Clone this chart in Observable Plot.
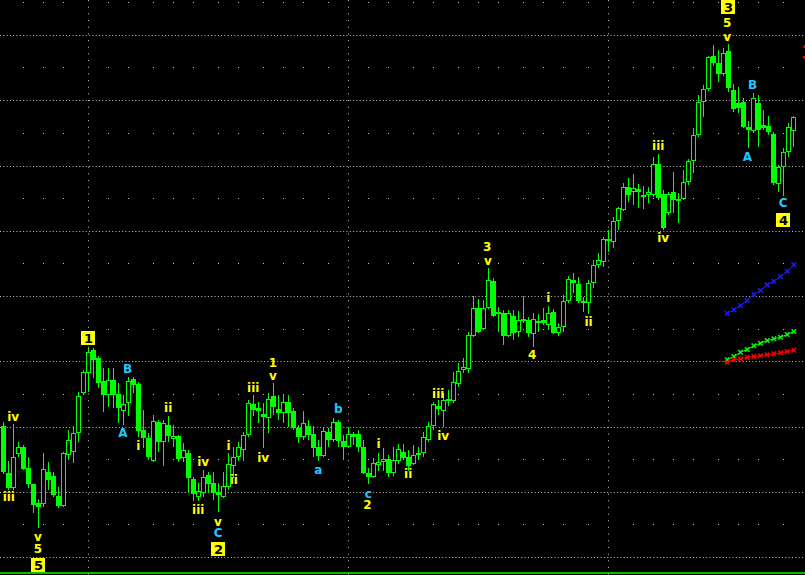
<!DOCTYPE html>
<html><head><meta charset="utf-8">
<script src="https://cdn.jsdelivr.net/npm/d3@7"></script>
<script src="https://cdn.jsdelivr.net/npm/@observablehq/plot@0.6"></script>
<style>html,body{margin:0;padding:0;background:#000;overflow:hidden}</style>
</head><body><div id="chart"></div>
<script>
// Daily OHLC (arbitrary price units), 159 sessions
const openP = [17.4,12.7,11.2,14.6,15.3,13.2,11.6,9.7,9.6,12.8,12.4,10.4,9.4,14.5,14.8,16.7,20.7,22.7,25.0,24.2,
21.9,20.5,22.0,20.6,18.9,19.7,22.1,21.6,17.0,16.2,13.9,17.8,15.8,17.5,16.1,16.4,14.2,14.7,12.1,10.3,
10.7,12.5,11.7,10.8,10.3,11.3,13.4,14.3,15.0,16.5,19.6,19.2,18.6,18.2,20.4,19.1,18.7,19.8,18.9,17.2,
16.3,17.4,16.6,15.3,14.4,16.8,16.0,17.8,15.9,15.3,16.6,16.6,15.3,12.7,12.3,13.5,13.8,14.1,12.7,13.9,
14.8,14.3,13.6,14.7,14.7,16.0,17.4,19.4,18.9,19.9,19.9,21.6,23.0,23.1,26.4,29.2,27.1,29.2,31.9,28.8,
28.7,26.4,28.4,26.8,28.1,28.0,26.6,27.9,28.0,27.5,28.8,26.7,27.3,29.9,32.0,31.6,29.9,29.7,31.7,33.5,
33.8,36.1,35.8,37.9,39.0,41.3,40.8,41.1,40.5,40.5,40.5,43.6,40.6,38.7,40.8,39.9,40.1,41.8,43.9,46.5,
49.8,51.1,54.4,53.7,52.6,54.9,51.0,49.7,49.8,47.3,46.9,49.7,47.5,47.4,46.6,41.6,43.3,44.8,46.9];
const highP = [17.8,13.9,17.6,15.8,15.5,14.3,11.6,10.1,14.7,13.8,12.8,11.3,14.8,17.0,17.4,20.8,23.0,25.2,25.2,24.4,
23.2,23.2,23.2,21.7,20.5,22.3,22.3,21.8,19.0,16.7,18.5,18.0,18.0,18.4,17.5,16.5,15.7,15.0,12.3,11.7,
13.0,12.8,12.8,11.7,12.8,14.7,15.3,15.8,16.8,20.0,20.5,19.8,19.7,20.7,21.7,20.5,20.5,20.5,19.2,17.5,
18.9,18.0,17.4,16.0,17.3,17.2,18.2,18.0,16.5,17.3,16.8,17.0,16.0,13.2,14.2,14.7,15.2,14.5,15.3,15.6,
15.6,15.0,15.5,15.3,16.8,17.8,19.8,20.0,20.7,21.0,22.8,23.7,24.2,26.8,30.4,30.1,30.0,33.2,32.2,29.3,
29.0,29.0,29.0,28.9,30.4,28.3,28.7,28.6,29.2,29.4,29.1,27.7,30.5,32.4,32.7,32.3,30.3,32.0,34.0,34.7,
36.3,37.0,38.3,39.3,41.7,42.2,42.6,41.6,41.4,41.3,44.3,44.6,41.0,40.8,42.8,40.7,43.0,44.1,47.2,50.5,
51.5,54.4,55.5,55.0,55.2,55.6,51.6,51.3,50.2,47.9,50.7,50.5,49.0,48.4,46.8,43.5,45.2,47.7,48.4];
const lowP = [12.6,11.0,11.0,14.3,13.0,11.2,8.7,7.2,9.3,11.0,10.3,9.2,9.3,14.0,13.7,15.8,20.5,20.8,22.2,21.2,
18.8,19.3,19.2,17.7,17.5,18.4,20.7,16.3,15.2,14.0,13.8,14.8,13.4,15.8,15.3,13.8,13.8,10.7,9.9,9.9,
10.3,10.7,10.0,8.8,10.2,11.0,12.2,13.9,13.9,16.3,18.4,17.7,15.2,16.7,18.5,18.0,17.7,17.3,17.0,15.7,
16.0,16.0,14.3,13.9,14.3,15.3,15.8,15.3,14.0,15.2,15.5,14.8,12.6,11.6,12.2,12.9,12.9,12.3,12.4,13.6,
14.0,12.9,13.5,14.0,14.3,15.8,17.0,18.5,17.3,19.4,19.7,21.3,22.7,22.7,26.3,26.7,27.0,29.1,28.3,26.8,
25.5,26.3,26.0,26.3,27.7,26.3,25.3,26.8,27.5,27.0,26.6,26.4,26.8,29.7,30.7,29.7,28.8,28.6,31.2,33.2,
33.3,34.8,35.2,37.0,38.9,39.8,39.5,39.2,39.1,39.7,40.3,40.0,37.0,38.5,38.7,37.7,40.0,41.5,42.7,46.3,
48.3,50.9,53.4,51.8,52.4,50.8,48.8,48.7,47.2,45.2,46.7,45.3,47.0,46.5,41.5,40.8,40.4,44.3,45.3];
const closeP = [12.8,11.2,14.3,15.3,13.1,11.6,9.5,9.3,13.1,12.0,10.5,9.4,14.7,16.0,16.7,20.4,22.8,24.8,24.0,21.7,
20.5,22.0,20.5,19.2,19.6,21.9,21.5,16.9,16.2,14.3,17.9,15.8,17.7,16.4,16.4,14.1,15.0,12.2,10.6,10.9,
12.3,11.6,10.7,10.5,11.4,13.6,14.3,15.3,16.5,19.7,19.0,18.9,18.3,20.1,19.3,18.7,19.8,18.7,17.2,16.3,
17.7,16.5,15.2,14.4,16.9,16.0,17.8,15.9,15.3,16.6,16.3,15.3,12.7,12.3,13.7,13.8,14.1,12.7,14.0,15.1,
14.2,13.4,14.5,14.5,16.3,17.4,19.6,19.1,20.0,20.1,21.8,22.9,23.3,26.5,29.2,26.8,29.2,32.0,28.4,28.6,
26.4,28.7,26.7,28.0,27.9,26.7,28.1,27.7,27.7,28.7,26.7,27.3,29.9,32.1,31.7,29.9,29.7,31.7,33.5,34.0,
36.1,35.9,37.9,39.2,41.3,40.5,41.2,40.8,40.3,40.8,43.6,40.2,37.2,40.6,40.0,40.1,41.8,43.9,46.5,49.8,
51.1,54.3,53.7,52.6,54.7,51.2,49.1,49.2,47.3,47.0,50.2,47.0,47.2,46.8,41.7,43.3,44.8,47.3,48.3];

// Indicator lines at the right edge
const maX    = [144.64,145.97,147.3,148.64,149.97,151.3,152.64,153.97,155.3,156.64,157.97];
const blueMA = [28.73,29.07,29.5,30.0,30.6,31.0,31.57,31.93,32.4,32.93,33.57];
const greenMA= [24.07,24.4,24.83,25.1,25.47,25.73,26.0,26.17,26.33,26.6,26.9];
const redMA  = [23.83,24.07,24.17,24.33,24.4,24.47,24.57,24.67,24.77,24.9,25.03];

// Elliott wave labels
const labelText = ["iv","iii","v","5","B","A","i","ii","iv","iii","v","C","i","ii","iii","iv","1","v","a","b","c","2","i","ii","iii","iv","3","v","4","i","ii","iii","iv","5","v","B","A","C"];
const labelX = [1.84,0.96,6.76,6.76,24.7,23.76,26.84,32.84,39.84,38.84,42.76,42.84,44.9,45.96,49.84,51.84,53.76,53.76,62.84,66.84,72.84,72.7,74.9,80.84,86.84,87.84,96.64,96.76,105.64,108.84,116.9,130.84,131.84,144.64,144.64,149.7,148.7,155.84];
const labelY = [18.33,10.33,6.33,5.1,23.1,16.73,15.43,19.2,13.83,9.0,7.83,6.73,15.4,12.0,21.27,14.27,23.77,22.4,13.0,19.17,10.67,9.5,15.6,12.6,20.67,16.43,35.33,33.9,24.5,30.2,27.83,45.43,36.2,57.73,56.33,51.5,44.3,39.7];
const labelKind = ["y","y","y","y","c","c","y","y","y","y","y","c","y","y","y","y","y","y","c","c","c","y","y","y","y","y","y","y","y","y","y","y","y","y","y","c","c","c"];

const boxText = ["5","1","2","3","4"];
const boxX = [6.9,16.9,42.9,144.9,155.9];
const boxY = [3.5,26.2,5.1,59.3,38.0];

// Grid
const majorY = [56.5,50.0,43.4,36.9,30.4,23.9,17.3,10.8,4.3];
const minorY = [59.8,53.3,46.7,40.2,33.7,27.1,20.6,14.1,7.6];
const majorX = [17,69,121];
const weekX = [4,8,12,21,25,30,34,38,43,47,52,56,60,65,73,77,82,86,91,95,99,104,108,112,117,126,130,134,138,143,147,151,156];
const baseLine = [2.75];

const bars = openP.map((o, i) => ({i, open: o, high: highP[i], low: lowP[i], close: closeP[i], up: closeP[i] > o}));
const labels = labelText.map((t, k) => ({t, x: labelX[k], y: labelY[k], kind: labelKind[k]}));
const boxes = boxText.map((t, k) => ({t, x: boxX[k], y: boxY[k]}));
const minorDots = minorY.flatMap(p => weekX.map(w => ({w, p})));
const ma = (arr) => arr.map((v, k) => ({x: maX[k], v}));

const GREEN = "#00ff00", GRID = "#c0c0c0", YEL = "#ffff00", CYAN = "#20c8ff";
const font = "DejaVu Sans";

const chart = Plot.plot({
  width: 805, height: 575, margin: 0,
  style: {background: "#000", overflow: "hidden"},
  x: {type: "linear", domain: [-0.7, 160.3], range: [0, 805], axis: null},
  y: {type: "linear", domain: [2.5, 60], range: [575, 0], axis: null},
  marks: [
    Plot.ruleY(majorY, {stroke: GRID, strokeDasharray: "1,2.3"}),
    Plot.ruleX(majorX, {stroke: GRID, strokeDasharray: "1,5.67", dx: -0.5}),
    Plot.rect(minorDots, {x1: d => d.w - 0.1, x2: d => d.w + 0.1, y1: d => d.p, y2: d => d.p - 0.1, fill: GRID}),
    Plot.ruleY(baseLine, {stroke: GREEN, strokeWidth: 1.5}),
    // wicks
    Plot.rect(bars, {x1: d => d.i - 0.1, x2: d => d.i + 0.1, y1: "low", y2: "high", fill: GREEN}),
    // down bodies (filled)
    Plot.rect(bars.filter(d => !d.up), {x1: d => d.i - 0.5, x2: d => d.i + 0.5, y1: "open", y2: "close", fill: GREEN}),
    // up bodies (hollow)
    Plot.rect(bars.filter(d => d.up), {x1: d => d.i - 0.5, x2: d => d.i + 0.5, y1: "open", y2: "close", fill: "#000", stroke: GREEN, strokeWidth: 1, inset: 0.5}),
    // indicator lines
    Plot.line(ma(blueMA), {x: "x", y: "v", stroke: "#1a1aff", strokeWidth: 1}),
    Plot.dot(ma(blueMA), {x: "x", y: "v", stroke: "#1a1aff", symbol: "times", r: 2.2}),
    Plot.line(ma(greenMA), {x: "x", y: "v", stroke: GREEN, strokeWidth: 1}),
    Plot.dot(ma(greenMA), {x: "x", y: "v", stroke: GREEN, symbol: "times", r: 2.2}),
    Plot.line(ma(redMA), {x: "x", y: "v", stroke: "#ff0000", strokeWidth: 1}),
    Plot.dot(ma(redMA), {x: "x", y: "v", stroke: "#ff0000", symbol: "times", r: 2.2}),
    // wave labels
    Plot.text(labels, {x: "x", y: "y", text: "t", fill: d => d.kind === "c" ? CYAN : YEL, fontSize: 12, fontWeight: "bold", fontFamily: font}),
    Plot.rect(boxes, {x1: d => d.x - 1.4, x2: d => d.x + 1.4, y1: d => d.y - 0.7, y2: d => d.y + 0.7, fill: YEL}),
    Plot.text(boxes, {x: "x", y: "y", text: "t", fill: "#000", fontSize: 13, fontWeight: "bold", fontFamily: font}),
    Plot.text(["3"], {x: () => 159.45, y: () => 54.8, text: d => d, fill: "#ff0000", fontSize: 20, fontWeight: "bold", fontFamily: font, textAnchor: "start"})
  ]
});
document.getElementById("chart").appendChild(chart);
</script>
</body></html>
